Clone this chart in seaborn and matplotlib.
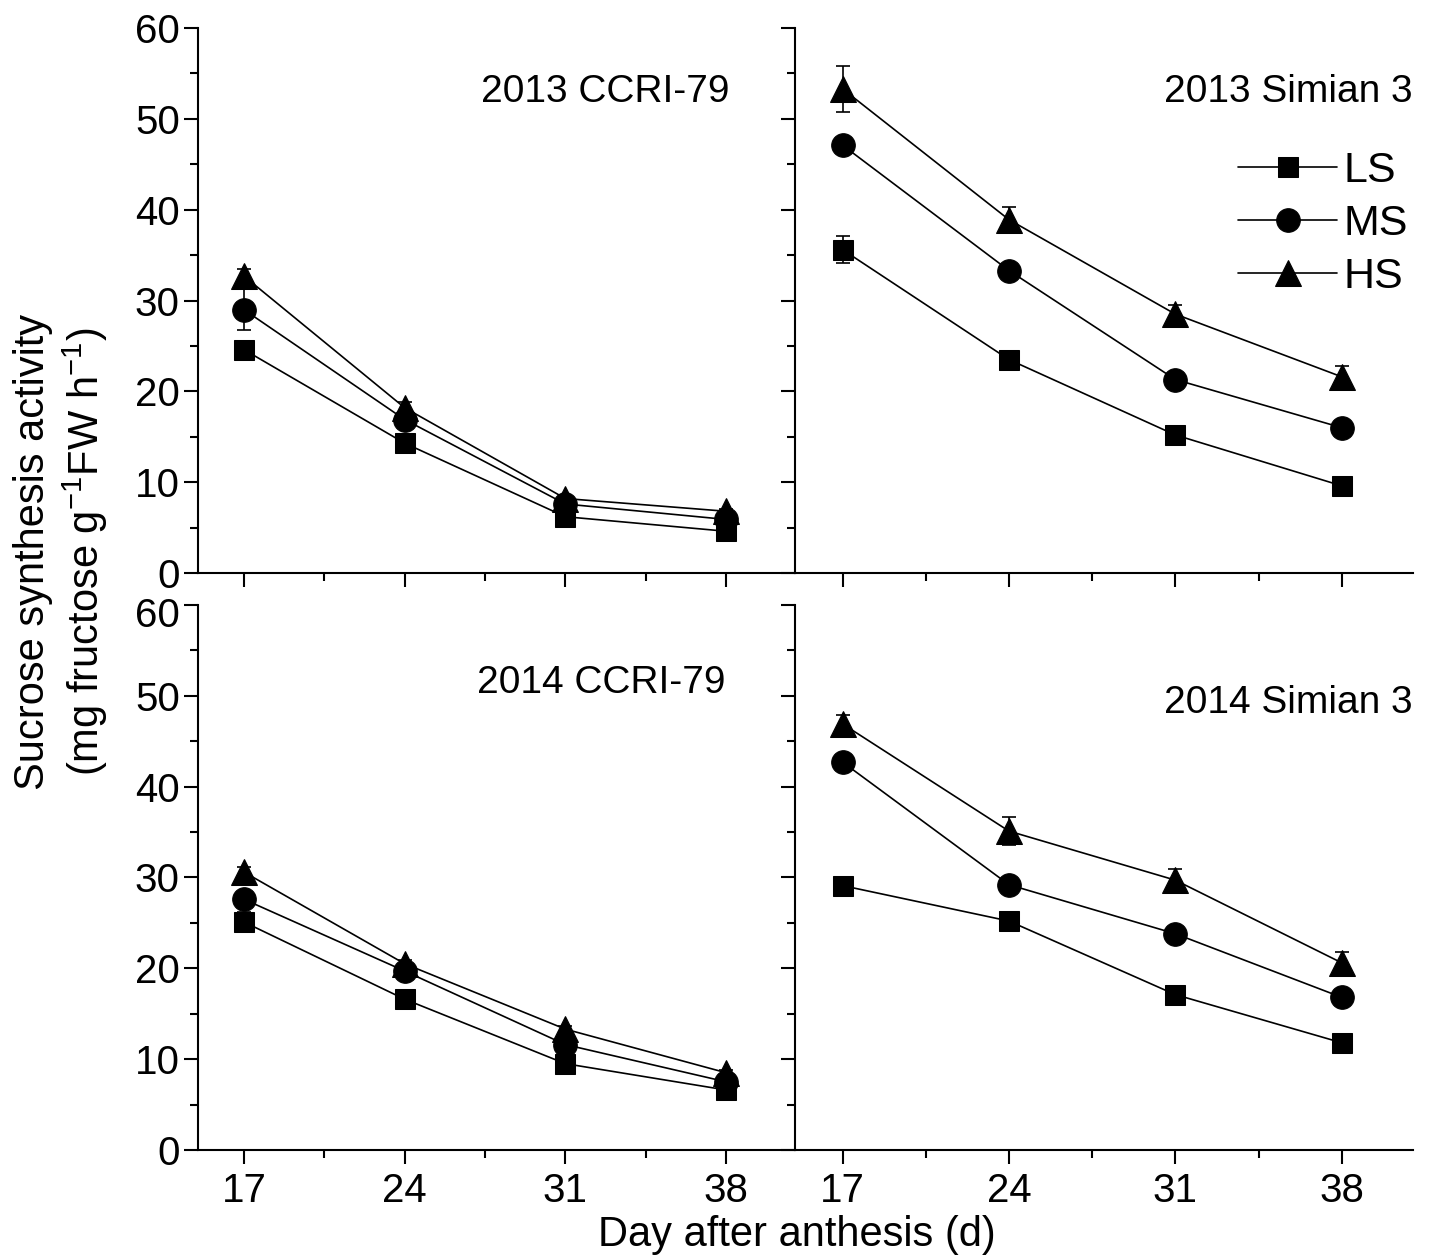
import numpy as np
import pandas as pd
import matplotlib
matplotlib.use('Agg')
import matplotlib.pyplot as plt
import matplotlib.transforms as mtransforms
import seaborn as sns
from matplotlib.ticker import MultipleLocator, FixedLocator

# days after anthesis
days = [17, 24, 31, 38]
levels = ['LS', 'MS', 'HS']

# 2013 CCRI-79
ccri13_ls = [24.6, 14.3, 6.2, 4.6]
ccri13_ms = [29.0, 16.9, 7.6, 5.9]
ccri13_hs = [32.7, 18.2, 8.2, 6.8]
ccri13_ls_err = [0.6, 0.5, 0.3, 0.3]
ccri13_ms_err = [2.3, 0.6, 0.3, 0.3]
ccri13_hs_err = [0.8, 0.6, 0.3, 0.3]

# 2013 Simian 3
sim13_ls = [35.6, 23.5, 15.2, 9.6]
sim13_ms = [47.1, 33.3, 21.3, 16.0]
sim13_hs = [53.3, 38.9, 28.5, 21.6]
sim13_ls_err = [1.5, 0.4, 0.4, 0.3]
sim13_ms_err = [0.5, 0.5, 0.4, 0.4]
sim13_hs_err = [2.5, 1.4, 1.0, 1.2]

# 2014 CCRI-79
ccri14_ls = [25.1, 16.6, 9.5, 6.6]
ccri14_ms = [27.6, 19.7, 11.6, 7.5]
ccri14_hs = [30.6, 20.5, 13.3, 8.5]
ccri14_ls_err = [1.1, 0.4, 0.3, 0.3]
ccri14_ms_err = [0.5, 0.4, 0.3, 0.3]
ccri14_hs_err = [0.5, 0.4, 0.3, 0.3]

# 2014 Simian 3
sim14_ls = [29.1, 25.2, 17.1, 11.8]
sim14_ms = [42.7, 29.2, 23.8, 16.8]
sim14_hs = [46.9, 35.1, 29.7, 20.6]
sim14_ls_err = [0.4, 0.4, 0.4, 0.4]
sim14_ms_err = [0.5, 0.4, 0.4, 0.4]
sim14_hs_err = [1.0, 1.5, 1.2, 1.2]

panels = [
    ('2013 CCRI-79', [ccri13_ls, ccri13_ms, ccri13_hs], [ccri13_ls_err, ccri13_ms_err, ccri13_hs_err]),
    ('2013 Simian 3', [sim13_ls, sim13_ms, sim13_hs], [sim13_ls_err, sim13_ms_err, sim13_hs_err]),
    ('2014 CCRI-79', [ccri14_ls, ccri14_ms, ccri14_hs], [ccri14_ls_err, ccri14_ms_err, ccri14_hs_err]),
    ('2014 Simian 3', [sim14_ls, sim14_ms, sim14_hs], [sim14_ls_err, sim14_ms_err, sim14_hs_err]),
]

sns.set_theme(style='ticks')
plt.rcParams['font.family'] = ['Liberation Sans', 'DejaVu Sans']
plt.rcParams['mathtext.fontset'] = 'custom'
plt.rcParams['mathtext.rm'] = 'Liberation Sans'
for k in ['text.color', 'axes.labelcolor', 'xtick.color', 'ytick.color', 'axes.edgecolor']:
    plt.rcParams[k] = 'black'

fig = plt.figure(figsize=(14.34, 12.55), dpi=100)

# axes rectangles (figure fractions)
xl, xm, xr = 0.138, 0.5544, 0.9854
yb0, yb1 = 0.0837, 0.518
yt0, yt1 = 0.5434, 0.9777
rects = [
    [xl, yt0, xm - xl, yt1 - yt0],
    [xm, yt0, xr - xm, yt1 - yt0],
    [xl, yb0, xm - xl, yb1 - yb0],
    [xm, yb0, xr - xm, yb1 - yb0],
]
title_pos = [(0.89, 0.882), (1.0, 0.882), (0.883, 0.857), (1.0, 0.82)]
markers = {'LS': 's', 'MS': 'o', 'HS': '^'}
msizes = {'LS': 15, 'MS': 17, 'HS': 19}
minor_days = [d + 3.5 for d in days[:-1]]

for i, (title, vals, errs) in enumerate(panels):
    ax = fig.add_axes(rects[i])
    df = pd.DataFrame({
        'day': days * 3,
        'value': vals[0] + vals[1] + vals[2],
        'level': [l for l in levels for _ in days],
    })
    for lev, v, e in zip(levels, vals, errs):
        ax.errorbar(days, v, yerr=e, fmt='none', ecolor='black', elinewidth=1.2,
                    capsize=5, capthick=1.2, zorder=1)
        sub = df[df['level'] == lev]
        sns.lineplot(data=sub, x='day', y='value', ax=ax, color='black', lw=1.2,
                     marker=markers[lev], markersize=msizes[lev], markeredgecolor='black',
                     markerfacecolor='black', label=lev, legend=False, zorder=3)
    ax.set_xlim(15, 41)
    ax.set_ylim(0, 60)
    ax.set_xticks(days)
    ax.xaxis.set_minor_locator(FixedLocator(minor_days))
    ax.yaxis.set_major_locator(MultipleLocator(10))
    ax.yaxis.set_minor_locator(MultipleLocator(5))
    ax.tick_params(which='major', direction='out', length=10, width=1.5, labelsize=29, pad=3)
    ax.tick_params(axis='x', which='major', pad=6)
    ax.tick_params(which='minor', direction='out', length=6, width=1.5)
    sns.despine(ax=ax, top=True, right=True)
    for s in ['left', 'bottom']:
        ax.spines[s].set_linewidth(1.5)
        ax.spines[s].set_color('black')
    ax.set_xlabel('')
    ax.set_ylabel('')
    if i < 2:
        ax.tick_params(axis='x', labelbottom=False)
    if i % 2 == 1:
        ax.tick_params(axis='y', labelleft=False)
    if i == 2:
        # push the top "60" label down a bit so it clears the "0" above
        fig.canvas.draw()
        lab = ax.get_yticklabels()[-1]
        off = mtransforms.ScaledTranslation(0, -7 / 100, fig.dpi_scale_trans)
        for t in ax.yaxis.get_majorticklabels():
            if t.get_text() == '60':
                t.set_transform(t.get_transform() + off)
    ax.text(title_pos[i][0], title_pos[i][1], title, transform=ax.transAxes,
            ha='right', va='center', fontsize=28)
    ax.patch.set_alpha(0)
    if i == 1:
        h, l = ax.get_legend_handles_labels()
        ax.legend(h, l, loc='upper right', bbox_to_anchor=(1.02, 0.805), frameon=False,
                  fontsize=31, handlelength=2.3, handletextpad=0.15, labelspacing=0.3,
                  borderaxespad=0)

fig.text(0.043, 0.56, 'Sucrose synthesis activity\n(mg fructose g$^{-1}$FW h$^{-1}$)',
         rotation=90, ha='center', va='center', fontsize=30, linespacing=1.2)
fig.text(0.556, 0.016, 'Day after anthesis (d)', ha='center', va='center', fontsize=30)

fig.savefig('out.png', dpi=100)
